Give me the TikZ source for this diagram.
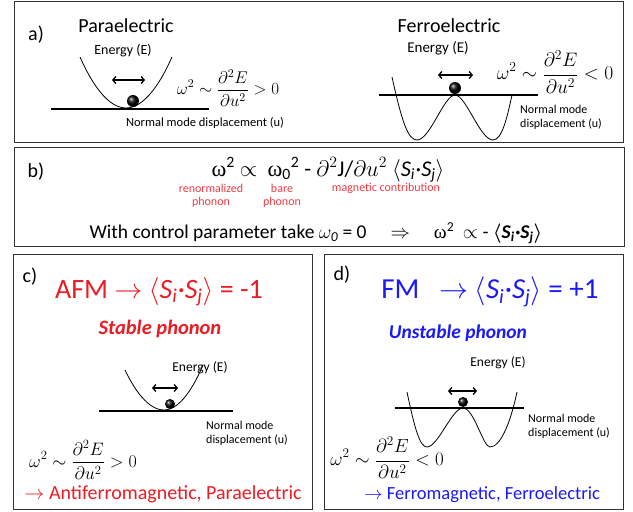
\RequirePackage{fix-cm}
\documentclass[tikz,border=0pt]{standalone}
\usepackage{amsmath,amssymb}
\usepackage{fontspec}
\setmainfont{Carlito}
\newfontfamily\serifw{Liberation Serif}
\usetikzlibrary{arrows.meta}
\definecolor{myred}{RGB}{237,28,36}
\definecolor{lightred}{RGB}{240,60,70}
\definecolor{myblue}{RGB}{25,25,250}
\newcommand{\fs}[1]{\fontsize{#1}{#1}\selectfont}
\newcommand{\SiSj}{$\langle$\textit{S}\textsubscript{\textit{i}}\kern0.5pt·\textit{S}\textsubscript{\textit{j}}$\rangle$}
\newcommand{\SiSjB}{\textbf{$\boldsymbol{\langle}$\textit{S}\textsubscript{\textit{i}}\kern0.5pt·\textit{S}\textsubscript{\textit{j}}$\boldsymbol{\rangle}$}}
\begin{document}
\begin{tikzpicture}[x=1pt,y=-1pt,
  box/.style={draw=black!80, line width=1pt},
  axisline/.style={line width=1.8pt},
  curve/.style={line width=0.8pt},
  osc/.style={{Straight Barb[length=3pt,width=7pt]}-{Straight Barb[length=3pt,width=7pt]}, line width=1.3pt},
  txt/.style={inner sep=0pt, anchor=center},
  tag/.style={txt, font=\fs{20}},
  nm/.style={inner sep=0pt, anchor=west, font=\fs{12}, align=left},
  ball/.style={ball color=black},
  redlbl/.style={txt, font=\fs{12}, text=lightred, align=center}]
\useasboundingbox (0,0) rectangle (633,512);
\fill[white] (0,0) rectangle (633,512);
% boxes
\draw[box] (14,1) rectangle (623,142);
\draw[box] (14,147) rectangle (624,246);
\draw[box] (13,254) rectangle (312,509);
\draw[box] (324,254) rectangle (623,509);

% ---------- a) ----------
\node[tag] (ta) at (36,35) {a)};
\node[txt, font=\fs{20}] (para) at (126,26) {Paraelectric};
\node[txt, font=\fs{14}] (ea) at (123,51) {Energy (E)};
\coordinate (pl1) at (51,109);
\coordinate (pl2) at (209,109);
\draw[axisline] (pl1) -- (pl2);
\draw[curve] (80,57) parabola bend (126,108) (172,57);
\coordinate (aa1) at (112,80);
\coordinate (aa2) at (145,80);
\draw[osc] (aa1) -- (aa2);
\shade[ball] (133,101) circle (6pt);
\node[txt, font=\fs{17}] (fa) at (228,88) {$\displaystyle \omega^2\sim\frac{\partial^2 E}{\partial u^2}>0$};
\node[txt, font=\fs{12.5}] (nma) at (205,123) {Normal mode displacement (u)};

\node[txt, font=\fs{20}] (ferro) at (449,26) {Ferroelectric};
\node[txt, font=\fs{15}] (eb) at (438,48) {Energy (E)};
\coordinate (fl1) at (379,95);
\coordinate (fl2) at (538,95);
\draw[axisline] (fl1) -- (fl2);
\draw[curve] (392,77) .. controls (402,122) and (408,140) .. (417,140)
  .. controls (430,140) and (444,95) .. (455,95)
  .. controls (466,95) and (480,140) .. (493,140)
  .. controls (502,140) and (507,118) .. (512,95);
\coordinate (fa1) at (438,75);
\coordinate (fa2) at (473,75);
\draw[osc] (fa1) -- (fa2);
\shade[ball] (455,88) circle (6pt);
\node[txt, font=\fs{19.5}] (fb) at (555,72) {$\displaystyle \omega^2\sim\frac{\partial^2 E}{\partial u^2}<0$};
\node[nm] (nmb) at (520,117) {Normal mode\\[2pt]displacement (u)};

% ---------- b) ----------
\node[tag] (tb) at (36,172) {b)};
\node[txt, font=\fs{22.5}] (eq) at (328,170) {{\serifw ω}\textsuperscript{2} $\propto$\ \ {\serifw ω}\textsubscript{0}\textsuperscript{2} - $\partial^2$J/$\partial u^2$ \SiSj};
\node[redlbl] (r1) at (211,196) {renormalized\\[1pt]phonon};
\node[redlbl] (r2) at (282,196) {bare\\[1pt]phonon};
\node[redlbl] (r3) at (386,188) {magnetic contribution};
\node[txt, font=\fs{19.5}] (ctrl) at (316,233) {With control parameter take $\omega_{\mathit{0}}$ = 0 \quad $\Rightarrow$ \quad {\serifw ω}\textsuperscript{2}\ \ $\propto$ - \SiSjB};

% ---------- c) ----------
\node[tag] (tc) at (30,277) {c)};
\node[txt, font=\fs{28}, text=myred] (afm) at (159,292) {AFM $\rightarrow$ \SiSj{} = -1};
\node[txt, font=\fs{20.5}\bfseries\itshape, text=myred] (stab) at (160,329) {Stable phonon};
\node[txt, font=\fs{13.5}] (ec) at (200,368) {Energy (E)};
\coordinate (cl1) at (99,411);
\coordinate (cl2) at (233,411);
\draw[axisline] (cl1) -- (cl2);
\draw[curve] (125,370) parabola bend (164,410) (203,365);
\coordinate (ca1) at (152,388);
\coordinate (ca2) at (178,388);
\draw[osc] (ca1) -- (ca2);
\shade[ball] (170,404) circle (5pt);
\node[nm] (nmc) at (206,433) {Normal mode\\[2pt]displacement (u)};
\node[txt, font=\fs{18}] (fc) at (83,460) {$\displaystyle \omega^2\sim\frac{\partial^2 E}{\partial u^2}>0$};
\node[txt, font=\fs{20}, text=myred] (cres) at (163,494) {$\rightarrow$ Antiferromagnetic, Paraelectric};

% ---------- d) ----------
\node[tag] (td) at (342,275) {d)};
\node[txt, font=\fs{29}, text=myblue] (fm) at (490,292) {FM \ \ $\rightarrow$ \SiSj{} = +1};
\node[txt, font=\fs{19.5}\bfseries\itshape, text=myblue] (unst) at (458,333) {Unstable phonon};
\node[txt, font=\fs{13.5}] (ed) at (498,363) {Energy (E)};
\coordinate (dl1) at (395,408);
\coordinate (dl2) at (524,408);
\draw[axisline] (dl1) -- (dl2);
\draw[curve] (407,392) .. controls (415,430) and (420,447) .. (427,447)
  .. controls (438,447) and (452,408) .. (463,408)
  .. controls (474,408) and (483,447) .. (490,447)
  .. controls (500,447) and (510,425) .. (517,392);
\coordinate (da1) at (448,391);
\coordinate (da2) at (477,391);
\draw[osc] (da1) -- (da2);
\shade[ball] (463,402) circle (5pt);
\node[nm] (nmd) at (528,426) {Normal mode\\[2pt]displacement (u)};
\node[txt, font=\fs{19}] (fd) at (387,458) {$\displaystyle \omega^2\sim\frac{\partial^2 E}{\partial u^2}<0$};
\node[txt, font=\fs{18.5}, text=myblue] (dres) at (482,495) {$\rightarrow$ Ferromagnetic, Ferroelectric};
\end{tikzpicture}
\end{document}
